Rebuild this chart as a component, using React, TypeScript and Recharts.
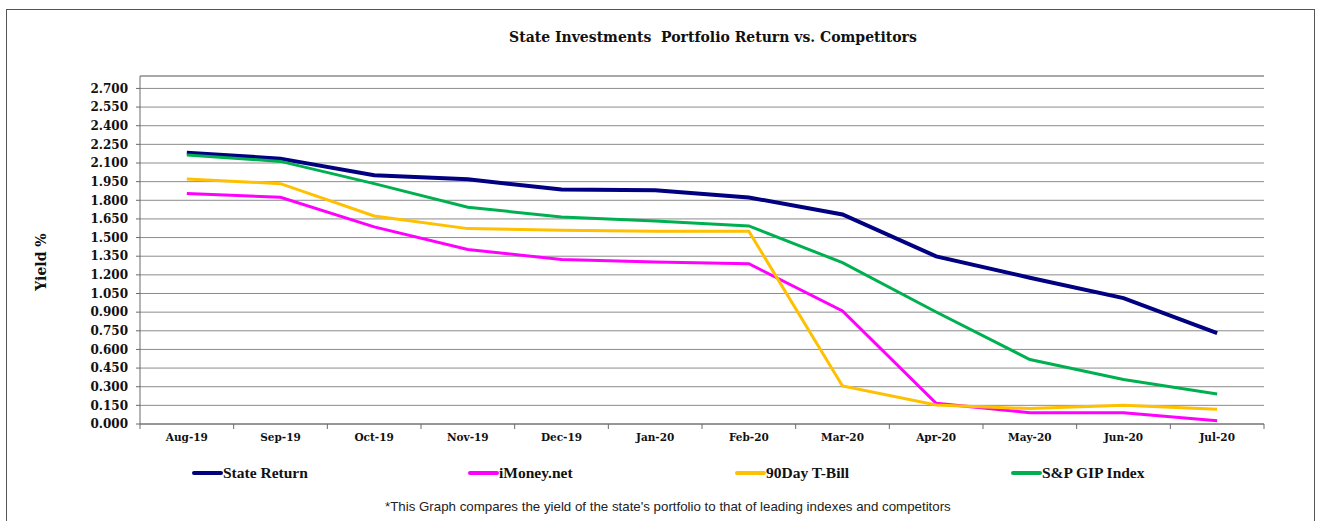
import React from "react";
import { LineChart, Line, XAxis, YAxis, CartesianGrid, Legend, ReferenceLine } from "recharts";

const months = ["Aug-19", "Sep-19", "Oct-19", "Nov-19", "Dec-19", "Jan-20", "Feb-20", "Mar-20", "Apr-20", "May-20", "Jun-20", "Jul-20"];
const stateReturn = [2.183, 2.135, 2.001, 1.969, 1.886, 1.88, 1.823, 1.686, 1.349, 1.177, 1.013, 0.731];
const iMoneyNet = [1.854, 1.824, 1.586, 1.404, 1.323, 1.304, 1.29, 0.909, 0.167, 0.091, 0.091, 0.027];
const tBill90 = [1.971, 1.934, 1.674, 1.572, 1.559, 1.551, 1.551, 0.306, 0.153, 0.124, 0.151, 0.118];
const gipIndex = [2.164, 2.113, 1.934, 1.744, 1.666, 1.634, 1.594, 1.298, 0.901, 0.519, 0.358, 0.242];
const yTicks = [0, 0.15, 0.3, 0.45, 0.6, 0.75, 0.9, 1.05, 1.2, 1.35, 1.5, 1.65, 1.8, 1.95, 2.1, 2.25, 2.4, 2.55, 2.7];
const yMax = 2.8;

const data = months.map((month, i) => ({
  month,
  state: stateReturn[i],
  imoney: iMoneyNet[i],
  tbill: tBill90[i],
  gip: gipIndex[i],
}));

const seriesOrder = ["state", "imoney", "tbill", "gip"];

// layout
const W = 1320;
const H = 521;
const PLOT_LEFT = 140;
const PLOT_RIGHT = 1264;
const PLOT_W = PLOT_RIGHT - PLOT_LEFT;
const HALF_BAND = PLOT_W / months.length / 2;
const AXIS = "#6b6b6b";
const GRID = "#8c8c8c";
const SERIF = "'DejaVu Serif', serif";
const LEGEND_LEFT = [192, 468, 735, 1011];

const XTick = (props: any) => {
  const { x, y, payload, index } = props;
  return (
    <g>
      <line x1={x - HALF_BAND} y1={y} x2={x - HALF_BAND} y2={y + 5} stroke={AXIS} />
      {index === months.length - 1 && <line x1={x + HALF_BAND} y1={y} x2={x + HALF_BAND} y2={y + 5} stroke={AXIS} />}
      <text x={x} y={y + 17} textAnchor="middle" fontFamily={SERIF} fontWeight={700} fontSize={10.5} fill="#111">
        {payload.value}
      </text>
    </g>
  );
};

const renderLegend = (props: any) => {
  const items = [...(props.payload || [])].sort(
    (a: any, b: any) => seriesOrder.indexOf(a.dataKey) - seriesOrder.indexOf(b.dataKey)
  );
  return (
    <div style={{ position: "relative", width: W, height: 20 }}>
      {items.map((entry: any, i: number) => (
        <div
          key={entry.value}
          style={{ position: "absolute", left: LEGEND_LEFT[i], top: 0, height: 20, display: "flex", alignItems: "center" }}
        >
          <span style={{ display: "inline-block", width: 31, height: 4, borderRadius: 2, background: entry.color }} />
          <span
            style={{
              fontFamily: "'Liberation Serif', serif",
              fontWeight: 700,
              fontSize: 15.5,
              color: "#111",
              whiteSpace: "pre",
            }}
          >
            {entry.value}
          </span>
        </div>
      ))}
    </div>
  );
};

export default function App() {
  return (
    <div style={{ position: "absolute", left: 0, top: 0, width: W, height: H, background: "#fff", overflow: "hidden" }}>
      <div
        style={{
          position: "absolute",
          left: 6,
          top: 9,
          width: 1309,
          height: 600,
          border: "1px solid #555",
          boxSizing: "border-box",
        }}
      />
      <div
        style={{
          position: "absolute",
          left: 713,
          top: 29,
          transform: "translateX(-50%)",
          fontFamily: SERIF,
          fontWeight: 700,
          fontSize: 14,
          lineHeight: "16px",
          whiteSpace: "pre",
          color: "#111",
        }}
      >
        State Investments  Portfolio Return vs. Competitors
      </div>
      <div
        style={{
          position: "absolute",
          left: 41,
          top: 262,
          transform: "translate(-50%, -50%) rotate(-90deg)",
          fontFamily: SERIF,
          fontWeight: 700,
          fontSize: 14,
          whiteSpace: "nowrap",
          color: "#111",
        }}
      >
        Yield %
      </div>
      <div style={{ position: "absolute", left: 0, top: 0 }}>
        <LineChart width={W} height={H} data={data} margin={{ top: 76, right: W - PLOT_RIGHT, bottom: 67, left: 80 }}>
          <CartesianGrid vertical={false} stroke={GRID} />
          <XAxis
            dataKey="month"
            height={30}
            interval={0}
            padding={{ left: HALF_BAND, right: HALF_BAND }}
            axisLine={{ stroke: AXIS }}
            tickLine={false}
            tickSize={0}
            tickMargin={0}
            tick={<XTick />}
          />
          <YAxis
            width={60}
            domain={[0, yMax]}
            ticks={yTicks}
            interval={0}
            allowDataOverflow
            tickFormatter={(v: number) => v.toFixed(3)}
            tick={{ fill: "#111", fontSize: 12, fontFamily: SERIF, fontWeight: 700 }}
            tickSize={4}
            tickMargin={8}
            axisLine={{ stroke: AXIS }}
            tickLine={{ stroke: AXIS }}
          />
          <YAxis
            yAxisId="frame"
            orientation="right"
            width={0}
            domain={[0, yMax]}
            tick={false}
            tickLine={false}
            axisLine={{ stroke: GRID }}
          />
          <ReferenceLine y={yMax} stroke={GRID} />
          <Legend
            layout="horizontal"
            align="center"
            verticalAlign="middle"
            wrapperStyle={{ position: "absolute", left: 0, top: 463, width: W, height: 20 }}
            content={renderLegend}
          />
          <Line name="State Return" dataKey="state" stroke="#000080" strokeWidth={4} dot={false} isAnimationActive={false} />
          <Line name="iMoney.net" dataKey="imoney" stroke="#FF00FF" strokeWidth={3} dot={false} isAnimationActive={false} />
          <Line name="90Day T-Bill" dataKey="tbill" stroke="#FFC000" strokeWidth={3} dot={false} isAnimationActive={false} />
          <Line name="S&P GIP Index" dataKey="gip" stroke="#00B050" strokeWidth={3} dot={false} isAnimationActive={false} />
        </LineChart>
      </div>
      <div
        style={{
          position: "absolute",
          left: 385,
          top: 499,
          fontFamily: "'Liberation Sans', sans-serif",
          fontSize: 13.3,
          lineHeight: "16px",
          color: "#222",
          whiteSpace: "nowrap",
        }}
      >
        *This Graph compares the yield of the state's portfolio to that of leading indexes and competitors
      </div>
    </div>
  );
}
